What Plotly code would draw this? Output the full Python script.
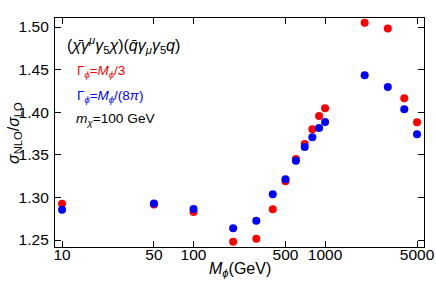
import plotly.graph_objects as go

mass = [10, 50, 100, 200, 300, 400, 500, 600, 700, 800, 900, 1000, 2000, 3000, 4000, 5000]
ratio_width_third = [1.2926, 1.2917, 1.2829, 1.2480, 1.2515, 1.2860, 1.3189, 1.3450, 1.3627, 1.3800,
                     1.3955, 1.4046, 1.5050, 1.4984, 1.4163, 1.3881]
ratio_width_8pi = [1.2856, 1.2928, 1.2864, 1.2637, 1.2727, 1.3036, 1.3212, 1.3430, 1.3592, 1.3705,
                   1.3815, 1.3885, 1.4433, 1.4296, 1.4034, 1.3740]

x_major = [10, 50, 100, 500, 1000, 5000]
x_major_labels = ["10", "50", "100", "500", "1000", "5000"]
x_minor = [20, 30, 40, 60, 70, 80, 90, 200, 300, 400, 600, 700, 800, 900, 2000, 3000, 4000]
y_major = [1.25, 1.30, 1.35, 1.40, 1.45, 1.50]
y_minor = [round(1.24 + 0.01 * i, 2) for i in range(28) if round(1.24 + 0.01 * i, 2) not in y_major]

FONT = "Liberation Sans, Arial, sans-serif"
X_RANGE = [0.9466, 3.752]
Y_RANGE = [1.2418, 1.5106]

fig = go.Figure()
fig.add_trace(go.Scatter(x=mass, y=ratio_width_third, mode="markers",
                         marker=dict(color="#ff0000", size=8, line=dict(width=0)),
                         showlegend=False))
fig.add_trace(go.Scatter(x=mass, y=ratio_width_8pi, mode="markers",
                         marker=dict(color="#0000ff", size=8, line=dict(width=0)),
                         showlegend=False))

fig.update_layout(
    template="none",
    width=436, height=288,
    margin=dict(l=55, r=12, t=18, b=41),
    paper_bgcolor="white", plot_bgcolor="white",
    font=dict(family=FONT, color="black", size=15),
    xaxis=dict(type="log", range=X_RANGE, automargin=False,
               tickmode="array", tickvals=x_major, ticktext=x_major_labels,
               ticks="inside", ticklen=6, tickwidth=1, tickcolor="black",
               ticklabelstandoff=-7,
               showline=True, linecolor="black", linewidth=1.3, mirror="ticks",
               showgrid=False, zeroline=False,
               tickfont=dict(size=15.5, family=FONT)),
    yaxis=dict(range=Y_RANGE, automargin=False,
               tickmode="array", tickvals=y_major, ticktext=[f"{v:.2f}" for v in y_major],
               ticks="inside", ticklen=6, tickwidth=1, tickcolor="black",
               ticklabelstandoff=2,
               showline=True, linecolor="black", linewidth=1.3, mirror="ticks",
               showgrid=False, zeroline=False,
               tickfont=dict(size=15.5, family=FONT)),
    xaxis2=dict(type="log", range=X_RANGE, overlaying="x", anchor="y", side="bottom",
                automargin=False, tickmode="array", tickvals=x_minor, showticklabels=False,
                ticks="inside", ticklen=3, tickwidth=1, tickcolor="#555555", mirror="ticks",
                showline=False, showgrid=False, zeroline=False),
    yaxis2=dict(range=Y_RANGE, overlaying="y", anchor="x", side="left",
                automargin=False, tickmode="array", tickvals=y_minor, showticklabels=False,
                ticks="inside", ticklen=3, tickwidth=1, tickcolor="#555555", mirror="ticks",
                showline=False, showgrid=False, zeroline=False),
)

fig.add_annotation(xref="paper", yref="paper", x=-0.11, y=0.5, xanchor="center", yanchor="middle",
                   text="<i>σ</i><sub>NLO</sub>/<i>σ</i><sub>LO</sub>", textangle=-90,
                   showarrow=False, font=dict(size=16, family=FONT))
fig.add_annotation(xref="paper", yref="paper", x=0.5, y=-0.10, xanchor="center", yanchor="middle",
                   text="<i>M</i><sub><i>ϕ</i></sub>(GeV)",
                   showarrow=False, font=dict(size=16, family=FONT))

fig.add_annotation(xref="paper", yref="paper", x=0.027, y=0.881, xanchor="left", yanchor="middle",
                   text="(<i>χ̄</i><i>γ</i><sup><i>μ</i></sup><i>γ</i><sub>5</sub><i>χ</i>)(<i>q̄</i><i>γ</i><sub><i>μ</i></sub><i>γ</i><sub>5</sub><i>q</i>)",
                   showarrow=False, font=dict(size=16, family=FONT, color="black"))
fig.add_annotation(xref="paper", yref="paper", x=0.055, y=0.768, xanchor="left", yanchor="middle",
                   text="Γ<sub><i>ϕ</i></sub>=<i>M</i><sub><i>ϕ</i></sub>/3",
                   showarrow=False, font=dict(size=13.5, family=FONT, color="#ff0000"))
fig.add_annotation(xref="paper", yref="paper", x=0.055, y=0.659, xanchor="left", yanchor="middle",
                   text="Γ<sub><i>ϕ</i></sub>=<i>M</i><sub><i>ϕ</i></sub>/(8<i>π</i>)",
                   showarrow=False, font=dict(size=13.5, family=FONT, color="#0000ff"))
fig.add_annotation(xref="paper", yref="paper", x=0.052, y=0.555, xanchor="left", yanchor="middle",
                   text="<i>m</i><sub><i>χ</i></sub>=100 GeV",
                   showarrow=False, font=dict(size=13.7, family=FONT, color="black"))

fig.write_html("out.html", config={"displayModeBar": False},
               post_script="document.body.style.margin='0';document.body.style.padding='0';")
